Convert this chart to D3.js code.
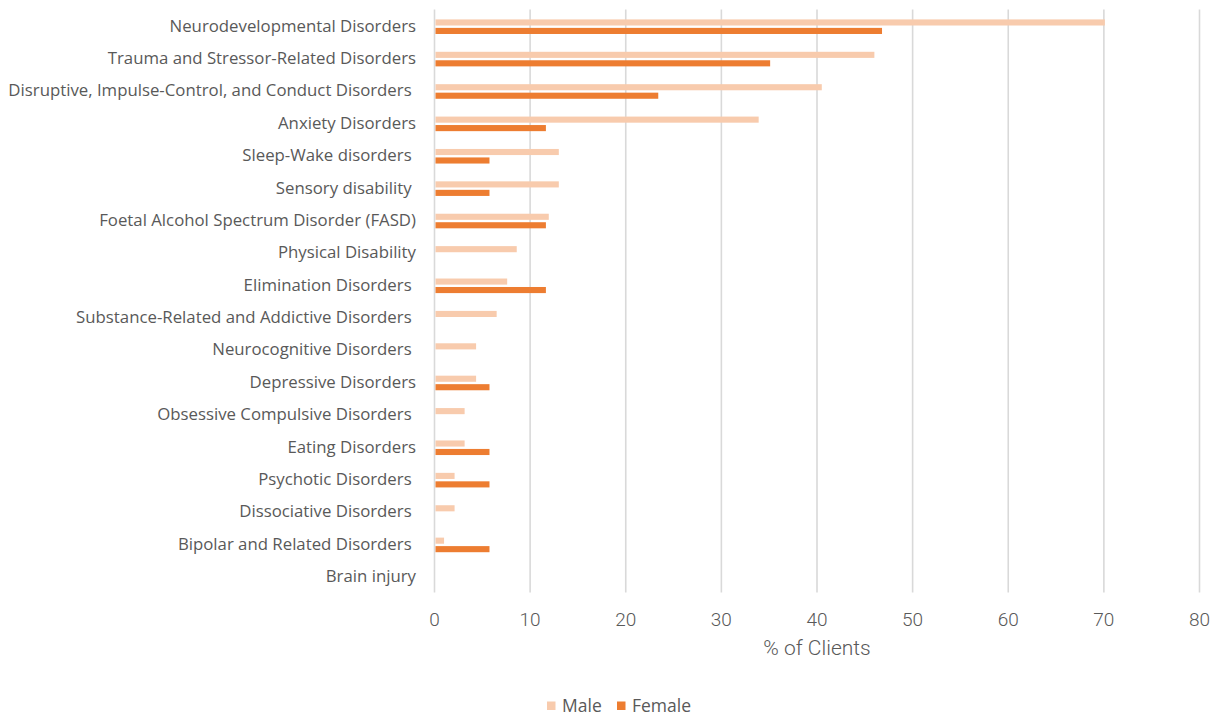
<!DOCTYPE html>
<html>
<head>
<meta charset="utf-8">
<script src="https://cdn.jsdelivr.net/npm/d3@7"></script>
<style>
  html, body { margin: 0; padding: 0; background: #fff; }
  svg { display: block; }
  .cat { white-space: pre; }
</style>
</head>
<body>
<svg id="chart" width="1219" height="716"></svg>
<script>
// Diagnosis categories (top to bottom)
const categories = [
  "Neurodevelopmental Disorders",
  "Trauma and Stressor-Related Disorders",
  "Disruptive, Impulse-Control, and Conduct Disorders ",
  "Anxiety Disorders",
  "Sleep-Wake disorders ",
  "Sensory disability ",
  "Foetal Alcohol Spectrum Disorder (FASD)",
  "Physical Disability",
  "Elimination Disorders ",
  "Substance-Related and Addictive Disorders ",
  "Neurocognitive Disorders ",
  "Depressive Disorders",
  "Obsessive Compulsive Disorders ",
  "Eating Disorders",
  "Psychotic Disorders ",
  "Dissociative Disorders ",
  "Bipolar and Related Disorders ",
  "Brain injury"
];

// % of clients by sex
const maleValues = [70.1, 46.0, 40.5, 33.9, 13.0, 13.0, 11.95, 8.6, 7.6, 6.5, 4.35, 4.35, 3.15, 3.15, 2.1, 2.1, 1.0, 0];
const femaleValues = [46.8, 35.1, 23.4, 11.65, 5.75, 5.75, 11.65, 0, 11.65, 0, 0, 5.75, 0, 5.75, 5.75, 0, 5.75, 0];

const seriesNames = ["Male", "Female"];
const seriesColors = ["#F8CBAD", "#ED7D31"];
const xTicks = [0, 10, 20, 30, 40, 50, 60, 70, 80];
const xTitle = "% of Clients";

const svg = d3.select("#chart");
const font = "'Open Sans', sans-serif";
const textColor = "#595959";

const plot = { left: 434.5, right: 1199.5, top: 10.5, bottom: 593.5 };

const x = d3.scaleLinear().domain([0, 80]).range([plot.left, plot.right]);
const y = d3.scaleBand().domain(categories).range([plot.top, plot.bottom]);
const inner = d3.scaleBand().domain(seriesNames).range([0, y.bandwidth()]).paddingInner(0.28).paddingOuter(1.05);

// Vertical gridlines
svg.append("g")
  .selectAll("line")
  .data(xTicks)
  .join("line")
  .attr("x1", d => x(d)).attr("x2", d => x(d))
  .attr("y1", plot.top - 1).attr("y2", plot.bottom - 1)
  .attr("stroke", "#d9d9d9")
  .attr("stroke-width", 1.6);

// Bars
const rows = categories.map((c, i) => ({ c, vals: [maleValues[i], femaleValues[i]] }));
const groups = svg.append("g")
  .selectAll("g")
  .data(rows)
  .join("g")
  .attr("transform", d => `translate(0,${y(d.c)})`);

groups.selectAll("rect")
  .data(d => d.vals.map((v, j) => ({ v, s: seriesNames[j], color: seriesColors[j] })))
  .join("rect")
  .attr("x", x(0) + 1)
  .attr("y", d => inner(d.s))
  .attr("width", d => Math.max(0, x(d.v) - x(0) - 1))
  .attr("height", inner.bandwidth())
  .attr("fill", d => d.color);

// Category labels
svg.append("g")
  .selectAll("text")
  .data(categories)
  .join("text")
  .attr("class", "cat")
  .attr("x", 416)
  .attr("y", d => y(d) + y.bandwidth() / 2 - 1)
  .attr("dy", "0.35em")
  .attr("text-anchor", "end")
  .attr("font-family", font)
  .attr("font-size", 16.8)
  .attr("fill", textColor)
  .text(d => d);

// X tick labels
svg.append("g")
  .selectAll("text")
  .data(xTicks)
  .join("text")
  .attr("x", d => x(d))
  .attr("y", 619)
  .attr("dy", "0.35em")
  .attr("text-anchor", "middle")
  .attr("font-family", "Roboto, sans-serif")
  .attr("font-weight", 300)
  .attr("font-size", 19)
  .attr("fill", textColor)
  .text(d => d);

// Axis title
svg.append("text")
  .attr("x", (plot.left + plot.right) / 2)
  .attr("y", 648)
  .attr("dy", "0.35em")
  .attr("text-anchor", "middle")
  .attr("font-family", "Roboto, sans-serif")
  .attr("font-weight", 300)
  .attr("font-size", 21)
  .attr("fill", textColor)
  .text(xTitle);

// Legend
const legendItems = [
  { name: seriesNames[0], color: seriesColors[0], x: 547 },
  { name: seriesNames[1], color: seriesColors[1], x: 617 }
];
const lg = svg.append("g").selectAll("g").data(legendItems).join("g")
  .attr("transform", d => `translate(${d.x},706)`);
lg.append("rect")
  .attr("x", 0).attr("y", -4.5)
  .attr("width", 8.5).attr("height", 8.5)
  .attr("fill", d => d.color);
lg.append("text")
  .attr("x", 15)
  .attr("dy", "0.35em")
  .attr("font-family", font)
  .attr("font-size", 17.5)
  .attr("fill", textColor)
  .text(d => d.name);
</script>
</body>
</html>
